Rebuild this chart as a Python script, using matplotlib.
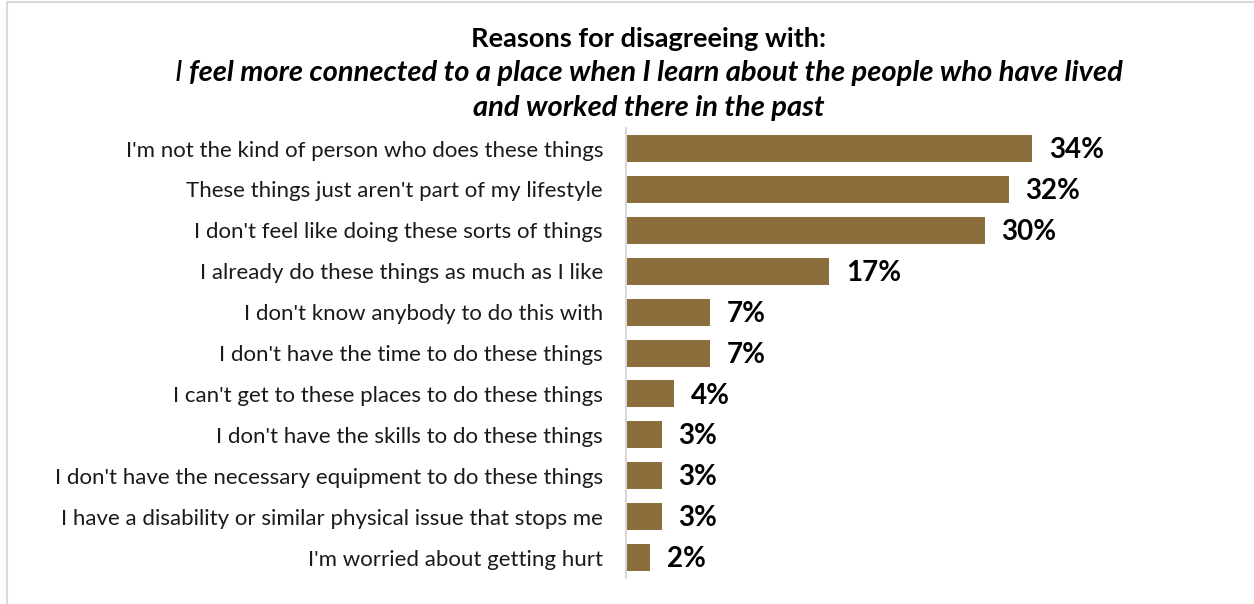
import matplotlib
matplotlib.use('Agg')
import matplotlib.pyplot as plt
from matplotlib.patches import Rectangle

plt.rcParams['font.family'] = ['Lato', 'DejaVu Sans']

reasons = [
    "I'm not the kind of person who does these things",
    "These things just aren't part of my lifestyle",
    "I don't feel like doing these sorts of things",
    "I already do these things as much as I like",
    "I don't know anybody to do this with",
    "I don't have the time to do these things",
    "I can't get to these places to do these things",
    "I don't have the skills to do these things",
    "I don't have the necessary equipment to do these things",
    "I have a disability or similar physical issue that stops me",
    "I'm worried about getting hurt",
]
pct = [34, 32, 30, 17, 7, 7, 4, 3, 3, 3, 2]

title = "Reasons for disagreeing with:"
sub1_lead = "I "
sub1 = "feel more connected to a place when I learn about the people who have lived"
sub2 = "and worked there in the past"

BAR = '#8B6E3C'

fig = plt.figure(figsize=(12.54, 6.04), dpi=100)
ax = fig.add_axes([0.4992, 0.043, 0.49, 0.745])

y = list(range(len(reasons)))
ax.barh(y, pct, height=0.66, color=BAR)
for yi, v in zip(y, pct):
    ax.text(v + 1.4, yi + 0.04, f"{v}%", va='center', ha='left',
            fontsize=20, fontweight='bold', color='black')

ax.set_ylim(len(reasons) - 0.5, -0.5)
ax.set_xlim(0, 51.4)
ax.set_yticks(y)
ax.set_yticklabels(reasons, fontsize=16, color='#1a1a1a')
ax.tick_params(axis='y', length=0, pad=16.5)
ax.set_xticks([])
for s in ['top', 'right', 'bottom']:
    ax.spines[s].set_visible(False)
ax.spines['left'].set_color('#d9d9d9')
ax.spines['left'].set_linewidth(1.5)

FS_T = 19.6
FS_S = 21
cx = 0.5175

# titles
fig.text(cx, 0.935, title, ha='center', va='center', fontsize=FS_T, fontweight='bold')
fig.text(cx, 0.822, sub2, ha='center', va='center', fontsize=FS_S,
         fontweight='bold', style='italic')

# second line: plain italic "I" followed by the bold italic text, centred together
r = fig.canvas.get_renderer()
t_lead = fig.text(0, 0.879, sub1_lead, ha='left', va='center', fontsize=FS_S, style='italic')
t_main = fig.text(0, 0.879, sub1, ha='left', va='center', fontsize=FS_S,
                  fontweight='bold', style='italic')
w_lead = t_lead.get_window_extent(r).width
w_main = t_main.get_window_extent(r).width
fw = fig.get_figwidth() * fig.dpi
x0 = cx * fw - (w_lead + w_main) / 2
t_lead.set_x(x0 / fw)
t_main.set_x((x0 + w_lead) / fw)

# light frame around the chart (runs off the right and bottom edges)
fig.patches.append(Rectangle((0.0056, -0.05), 1.05, 1.047, transform=fig.transFigure,
                             fill=False, edgecolor='#d9d9d9', linewidth=1.5))

fig.savefig('out.png', dpi=100, facecolor='white')
